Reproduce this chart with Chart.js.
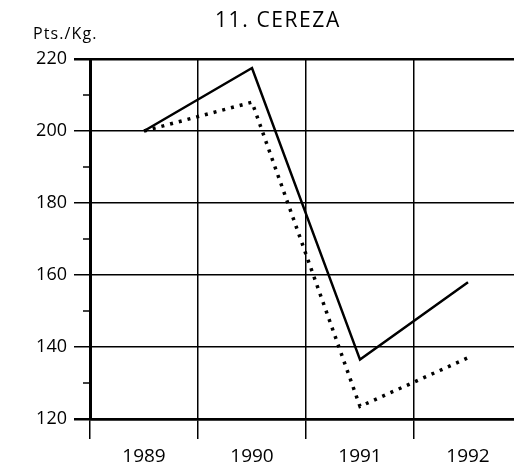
<!DOCTYPE html>
<html>
<head>
<meta charset="utf-8">
<script src="https://cdn.jsdelivr.net/npm/chart.js@4"></script>
<style>
  html, body { margin: 0; padding: 0; background: #fff; overflow: hidden; }
  #wrap { position: relative; width: 514px; height: 471px; overflow: hidden; }
  canvas { position: absolute; left: 0; top: 0; }
  .lbl { position: absolute; font-family: "Open Sans", sans-serif; color: #000; white-space: nowrap; }
  #title { left: 215px; top: 5px; font-size: 21px; letter-spacing: 1.6px; }
  #unit { left: 33px; top: 22px; font-size: 16px; letter-spacing: 1.1px; }
</style>
</head>
<body>
<div id="wrap">
  <canvas id="chart" width="530" height="471"></canvas>
  <div class="lbl" id="title">11. CEREZA</div>
  <div class="lbl" id="unit">Pts./Kg.</div>
</div>
<script>
// Data
const years = ['1989', '1990', '1991', '1992'];
const solidSeries = [200, 217.5, 136.5, 158];
const dottedSeries = [200, 208, 123.5, 137];
const yMin = 120;
const yMax = 220;
const yMajorStep = 20;
const yMinorTicks = [130, 150, 170, 190, 210];

// small minor tick marks on the y axis
const minorTicks = {
    id: 'minorTicks',
    afterDraw(chart) {
        const y = chart.scales.y;
        const ctx = chart.ctx;
        ctx.save();
        ctx.strokeStyle = '#000';
        ctx.lineWidth = 1.5;
        yMinorTicks.forEach(v => {
            const py = y.getPixelForValue(v);
            ctx.beginPath();
            ctx.moveTo(chart.chartArea.left - 7, py);
            ctx.lineTo(chart.chartArea.left, py);
            ctx.stroke();
        });
        ctx.restore();
    }
};

const ctx = document.getElementById('chart').getContext('2d');
new Chart(ctx, {
    type: 'line',
    data: {
        labels: years,
        datasets: [{
            data: solidSeries,
            borderColor: '#000',
            borderWidth: 2.5,
            pointRadius: 0,
            tension: 0
        }, {
            data: dottedSeries,
            borderColor: '#000',
            borderWidth: 3.5,
            borderDash: [3, 6],
            pointRadius: 0,
            tension: 0
        }]
    },
    options: {
        responsive: false,
        animation: false,
        layout: { padding: { top: 59, right: 8, bottom: 0, left: 0 } },
        plugins: {
            legend: { display: false },
            tooltip: { enabled: false }
        },
        scales: {
            x: {
                offset: true,
                afterFit: s => { s.height = 52; },
                grid: {
                    offset: true,
                    color: '#000',
                    lineWidth: 1.5,
                    tickLength: 20
                },
                border: { color: '#000', width: 2.5 },
                ticks: {
                    color: '#000',
                    padding: 6,
                    font: { family: 'Open Sans', size: 19 }
                }
            },
            y: {
                min: yMin,
                max: yMax,
                afterFit: s => { s.width = 90; },
                grid: {
                    color: '#000',
                    lineWidth: c => (c.tick && (c.tick.value === yMax || c.tick.value === yMin)) ? 2.5 : 1.5,
                    tickLength: 16
                },
                border: { color: '#000', width: 3 },
                ticks: {
                    stepSize: yMajorStep,
                    color: '#000',
                    padding: 7,
                    font: { family: 'Open Sans', size: 18 }
                }
            }
        }
    },
    plugins: [minorTicks]
});
</script>
</body>
</html>
